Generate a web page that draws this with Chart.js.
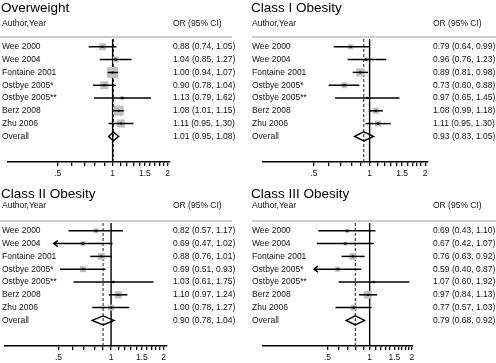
<!DOCTYPE html>
<html>
<head>
<meta charset="utf-8">
<script src="https://cdn.jsdelivr.net/npm/chart.js@4"></script>
<style>
  body { margin: 0; background: #fff; width: 496px; height: 363px; overflow: hidden; position: relative; }
  canvas { position: absolute; }
</style>
</head>
<body>
<canvas id="c0" width="248" height="181" style="left:0;top:0"></canvas>
<canvas id="c1" width="248" height="181" style="left:248px;top:0"></canvas>
<canvas id="c2" width="248" height="179" style="left:0;top:184px"></canvas>
<canvas id="c3" width="248" height="179" style="left:248px;top:184px"></canvas>
<script>
// rows of every panel
var studies = ['Wee 2000', 'Wee 2004', 'Fontaine 2001', 'Ostbye 2005*', 'Ostbye 2005**', 'Berz 2008', 'Zhu 2006'];
var xTicks = [0.5, 0.6, 0.7, 0.8, 0.9, 1, 1.1, 1.2, 1.3, 1.4, 1.5, 1.6, 1.7, 1.8, 1.9, 2];
var xTickLabels = ['.5', '', '', '', '', '1', '', '', '', '', '1.5', '', '', '', '', '2'];

// Overweight
var owOR = [0.88, 1.04, 1.00, 0.90, 1.13, 1.08, 1.11];
var owLo = [0.74, 0.85, 0.94, 0.78, 0.79, 1.01, 0.95];
var owHi = [1.05, 1.27, 1.07, 1.04, 1.62, 1.15, 1.30];
var owWeight = [11.1, 8.2, 27.4, 14.5, 3.6, 22.7, 14.5];
var owOverall = [1.01, 0.95, 1.08];

// Class I
var c1OR = [0.79, 0.96, 0.89, 0.73, 0.97, 1.08, 1.11];
var c1Lo = [0.64, 0.76, 0.81, 0.60, 0.65, 0.99, 0.95];
var c1Hi = [0.99, 1.23, 0.98, 0.88, 1.45, 1.18, 1.30];
var c1Weight = [5.7, 3.6, 14.5, 8.2, 2.0, 8.2, 8.2];
var c1Overall = [0.93, 0.83, 1.05];

// Class II
var c2OR = [0.82, 0.69, 0.88, 0.69, 1.03, 1.10, 1.00];
var c2Lo = [0.57, 0.47, 0.76, 0.51, 0.61, 0.97, 0.78];
var c2Hi = [1.17, 1.02, 1.01, 0.93, 1.75, 1.24, 1.27];
var c2Weight = [5.7, 5.7, 11.1, 8.2, 2.0, 11.1, 8.2];
var c2Overall = [0.90, 0.78, 1.04];

// Class III
var c3OR = [0.69, 0.67, 0.76, 0.59, 1.07, 0.97, 0.77];
var c3Lo = [0.43, 0.42, 0.63, 0.40, 0.60, 0.84, 0.57];
var c3Hi = [1.10, 1.07, 0.92, 0.87, 1.92, 1.13, 1.03];
var c3Weight = [3.6, 3.6, 11.1, 5.7, 2.0, 14.5, 8.2];
var c3Overall = [0.79, 0.68, 0.92];

var FONT = '"Liberation Sans", Arial, sans-serif';

var panels = [
    { el: 'c0', title: 'Overweight', or: owOR, lo: owLo, hi: owHi, weight: owWeight, overall: owOverall, arrows: [],
      xMin: 0.267, xMax: 2.06, left: 3, right: 170, labelX: 2, textX: 173, titleX: 1, titleY: 8.7, headY: 23.3, rule: [0, 232] },
    { el: 'c1', title: 'Class I Obesity', or: c1OR, lo: c1Lo, hi: c1Hi, weight: c1Weight, overall: c1Overall, arrows: [],
      xMin: 0.265, xMax: 2.07, left: 15, right: 180, labelX: 4, textX: 185, titleX: 3, titleY: 8.7, headY: 23.3, rule: [4, 248] },
    { el: 'c2', title: 'Class II Obesity', or: c2OR, lo: c2Lo, hi: c2Hi, weight: c2Weight, overall: c2Overall, arrows: [1],
      xMin: 0.247, xMax: 2.09, left: 5, right: 167, labelX: 2, textX: 173, titleX: 1, titleY: 9.8, headY: 22, rule: [0, 232] },
    { el: 'c3', title: 'Class III Obesity', or: c3OR, lo: c3Lo, hi: c3Hi, weight: c3Weight, overall: c3Overall, arrows: [3],
      xMin: 0.173, xMax: 2.04, left: 15, right: 165, labelX: 4, textX: 185, titleX: 3, titleY: 9.8, headY: 22, rule: [4, 248] }
];

function fmt(a, b, c) {
    return a.toFixed(2) + ' (' + b.toFixed(2) + ', ' + c.toFixed(2) + ')';
}

function makeForest(p) {
    return {
        id: 'forest',
        beforeDatasetsDraw: function (chart) {
            var ctx = chart.ctx, x = chart.scales.x, y = chart.scales.y;
            ctx.save();
            // header rule
            ctx.strokeStyle = '#bdbdbd';
            ctx.lineWidth = 1.5;
            ctx.beginPath();
            ctx.moveTo(p.rule[0], y.getPixelForValue(-0.77));
            ctx.lineTo(p.rule[1], y.getPixelForValue(-0.77));
            ctx.stroke();
            // no effect line
            ctx.strokeStyle = '#000';
            ctx.lineWidth = 1.4;
            ctx.beginPath();
            ctx.moveTo(x.getPixelForValue(1), y.getPixelForValue(-0.6));
            ctx.lineTo(x.getPixelForValue(1), y.getPixelForValue(9));
            ctx.stroke();
            // overall estimate line
            ctx.strokeStyle = '#333';
            ctx.lineWidth = 1.1;
            ctx.setLineDash([3, 2]);
            ctx.beginPath();
            ctx.moveTo(x.getPixelForValue(p.overall[0]), y.getPixelForValue(-0.6));
            ctx.lineTo(x.getPixelForValue(p.overall[0]), y.getPixelForValue(9));
            ctx.stroke();
            ctx.restore();
        },
        afterDatasetsDraw: function (chart) {
            var ctx = chart.ctx, x = chart.scales.x, y = chart.scales.y;
            ctx.save();
            // overall diamond
            var yo = y.getPixelForValue(7);
            ctx.strokeStyle = '#000';
            ctx.lineWidth = 1.4;
            ctx.beginPath();
            ctx.moveTo(x.getPixelForValue(p.overall[1]), yo);
            ctx.lineTo(x.getPixelForValue(p.overall[0]), yo - 4.5);
            ctx.lineTo(x.getPixelForValue(p.overall[2]), yo);
            ctx.lineTo(x.getPixelForValue(p.overall[0]), yo + 4.5);
            ctx.closePath();
            ctx.stroke();
            // truncated intervals
            ctx.lineWidth = 1.5;
            p.arrows.forEach(function (i) {
                var ax = x.getPixelForValue(p.lo[i]), ay = y.getPixelForValue(i);
                ctx.beginPath();
                ctx.moveTo(ax + 4, ay - 3);
                ctx.lineTo(ax, ay);
                ctx.lineTo(ax + 4, ay + 3);
                ctx.stroke();
            });
            // texts
            ctx.fillStyle = '#000';
            ctx.textBaseline = 'middle';
            ctx.textAlign = 'left';
            ctx.font = '13.5px ' + FONT;
            ctx.fillText(p.title, p.titleX, p.titleY);
            ctx.font = '8.5px ' + FONT;
            ctx.fillStyle = '#111';
            ctx.fillText('Author,Year', p.labelX, p.headY);
            ctx.fillText('OR (95% CI)', p.textX, p.headY);
            studies.forEach(function (s, i) {
                var yy = y.getPixelForValue(i);
                ctx.fillText(s, p.labelX, yy);
                ctx.fillText(fmt(p.or[i], p.lo[i], p.hi[i]), p.textX, yy);
            });
            ctx.fillText('Overall', p.labelX, yo);
            ctx.fillText(fmt(p.overall[0], p.overall[1], p.overall[2]), p.textX, yo);
            ctx.restore();
        }
    };
}

panels.forEach(function (p) {
    var canvas = document.getElementById(p.el);
    var H = canvas.height;
    var datasets = [];
    // study boxes, area ~ weight
    datasets.push({
        data: p.or.map(function (v, i) { return { x: v, y: i }; }),
        pointStyle: 'rect',
        pointRadius: p.weight.map(function (w) { return 2.1 * Math.sqrt(w) / Math.SQRT2; }),
        backgroundColor: '#c0c0c0',
        borderWidth: 0,
        order: 3
    });
    // confidence intervals
    p.or.forEach(function (v, i) {
        datasets.push({
            data: [{ x: p.lo[i], y: i }, { x: p.hi[i], y: i }],
            showLine: true,
            borderColor: '#000',
            borderWidth: 1.5,
            pointRadius: 0,
            order: 2
        });
    });
    // point estimates
    datasets.push({
        data: p.or.map(function (v, i) { return { x: v, y: i }; }),
        pointStyle: 'rect',
        pointRadius: 1.4,
        backgroundColor: '#000',
        borderWidth: 0,
        order: 1
    });

    new Chart(canvas, {
        type: 'scatter',
        data: { datasets: datasets },
        options: {
            responsive: false,
            animation: false,
            events: [],
            layout: { padding: { left: p.left, right: canvas.width - p.right, top: 34, bottom: 0 } },
            plugins: { legend: { display: false }, tooltip: { enabled: false } },
            scales: {
                x: {
                    type: 'logarithmic',
                    min: p.xMin,
                    max: p.xMax,
                    bounds: 'data',
                    afterBuildTicks: function (s) { s.ticks = xTicks.map(function (v) { return { value: v }; }); },
                    afterFit: function (s) { s.height = H - 162; },
                    ticks: {
                        autoSkip: false,
                        maxRotation: 0,
                        padding: 3,
                        color: '#111',
                        font: { size: 8.5, family: FONT },
                        callback: function (v, i) { return xTickLabels[i]; }
                    },
                    grid: { drawOnChartArea: false, drawTicks: true, tickLength: 4, color: '#000', lineWidth: 1.3 },
                    border: { display: true, color: '#000', width: 1.5 }
                },
                y: { type: 'linear', min: -1, max: 9, reverse: true, display: false }
            }
        },
        plugins: [makeForest(p)]
    });
});
</script>
</body>
</html>
